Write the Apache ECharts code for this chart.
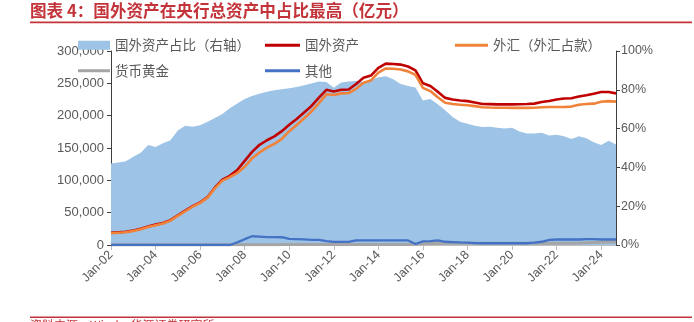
<!DOCTYPE html>
<html>
<head>
<meta charset="utf-8">
<script src="https://cdn.jsdelivr.net/npm/echarts@6/dist/echarts.min.js"></script>
<style>
  html, body { margin: 0; padding: 0; background: #fff; }
  #chart { width: 694px; height: 322px; }
</style>
</head>
<body>
<div id="chart"></div>
<script>
// Sampling dates (every four months)
const periods = [
  '2002-01','2002-05','2002-09','2003-01','2003-05','2003-09','2004-01','2004-05','2004-09',
  '2005-01','2005-05','2005-09','2006-01','2006-05','2006-09','2007-01','2007-05','2007-09',
  '2008-01','2008-05','2008-09','2009-01','2009-05','2009-09','2010-01','2010-05','2010-09',
  '2011-01','2011-05','2011-09','2012-01','2012-05','2012-09','2013-01','2013-05','2013-09',
  '2014-01','2014-05','2014-09','2015-01','2015-05','2015-09','2016-01','2016-05','2016-09',
  '2017-01','2017-05','2017-09','2018-01','2018-05','2018-09','2019-01','2019-05','2019-09',
  '2020-01','2020-05','2020-09','2021-01','2021-05','2021-09','2022-01','2022-05','2022-09',
  '2023-01','2023-05','2023-09','2024-01','2024-05','2024-09'
];

// 国外资产占比（%，右轴）
const foreignShare = [
  42, 42.5, 43.2, 45.5, 47.5, 51.5, 50.5, 52.5, 54,
  59, 61.5, 61, 61.7, 63.5, 65.5, 67.5, 70.5, 73,
  75.3, 76.8, 78, 79, 79.8, 80.3, 80.8, 81.5, 82.3,
  83.2, 84.3, 84, 81, 83.8, 84.3, 84.6, 84, 85,
  86.5, 87, 85.5, 83, 82, 81.2, 74.5, 75.3, 72.5,
  69.5, 66, 63.5, 62.5, 61.5, 60.8, 61, 60.5, 60,
  60.5, 58.5, 57.5, 57.5, 57.8, 56.5, 56.8, 56, 54.6,
  56, 55, 53, 51.5, 53.8, 51.8
];

// 国外资产（亿元）
const foreignAssets = [
  19000, 19800, 20500, 22500, 25000, 28500, 31500, 34000, 38500,
  46000, 53000, 60000, 66000, 74000, 89000, 101000, 107000, 116000,
  130000, 144000, 155000, 162000, 168000, 176000, 186000, 195000, 205000,
  215000, 228000, 240000, 237500, 240000, 240500, 249000, 258500, 262000,
  274000, 280500, 280000, 279000, 276000, 270000, 250000, 246000, 237000,
  227500, 225000, 223500, 222500, 220500, 218000, 217800, 217500, 217500,
  217500, 217600, 218000, 218600, 221000, 222700, 225000, 226500, 227000,
  229500, 231500, 234000, 236500, 236500, 234500
];

// 外汇（外汇占款，亿元）
const fxReserves = [
  18200, 19000, 19700, 21700, 24200, 27700, 30700, 33200, 37700,
  45200, 52200, 59200, 65200, 73200, 88000, 99500, 105000, 111500,
  121000, 134000, 143000, 150500, 156500, 164000, 176000, 185500, 196000,
  206500, 219500, 233000, 232000, 234500, 235000, 241500, 251000, 254500,
  266500, 273000, 272500, 271500, 268500, 263000, 243000, 238000, 228500,
  220000, 218000, 217000, 216000, 214700, 213000, 212600, 212300, 212200,
  212100, 212000, 212100, 212300, 213000, 213400, 213500, 213500, 214000,
  217000, 218000, 218600, 221500, 222500, 221700
];

// 货币黄金（亿元）
const monetaryGold = [
  337, 337, 337, 337, 337, 337, 337, 337, 337,
  337, 337, 337, 337, 337, 337, 337, 337, 337,
  337, 337, 337, 337, 337, 670, 670, 670, 670,
  670, 670, 670, 670, 670, 670, 670, 670, 670,
  670, 670, 670, 670, 670, 1500, 2100, 2330, 2330,
  2541, 2541, 2541, 2856, 2856, 2856, 2856, 2856, 2856,
  2856, 2856, 2856, 2856, 2856, 2856, 2856, 2856, 2856,
  3000, 3400, 3900, 4300, 4600, 4800
];

// 其他国外资产（亿元）
const otherAssets = [
  0, 0, 0, 0, 0, 0, 0, 0, 0,
  0, 0, 0, 0, 0, 0, 0, 0, 4000,
  9000, 13500, 13000, 12300, 12300, 12000, 9500, 9100, 8600,
  8000, 8000, 6000, 4800, 4800, 4800, 7000, 7000, 7000,
  7000, 7000, 7000, 7000, 7000, 1600, 5500, 6000, 7000,
  5000, 4500, 4000, 3700, 3000, 2700, 2700, 2700, 2700,
  2700, 2700, 2700, 3700, 5000, 8000, 8500, 8500, 8500,
  8500, 9000, 9000, 8500, 8500, 8500
];

// Horizontal axis labels, one every 24 months
const xTickLabels = ['Jan-02','Jan-04','Jan-06','Jan-08','Jan-10','Jan-12',
                     'Jan-14','Jan-16','Jan-18','Jan-20','Jan-22','Jan-24'];

const FONT = "'Liberation Sans', 'Noto Sans CJK SC', sans-serif";
const CJK = "'Noto Sans CJK SC', sans-serif";
const RED_TEXT = '#C3343A';
const TEXT_GREY = '#595959';
const AXIS_DARK = '#404040';

// months elapsed since Jan 2002
function monthIndex(p) {
  const parts = p.split('-').map(Number);
  return (parts[0] - 2002) * 12 + (parts[1] - 1);
}
const toPairs = vals => periods.map((p, i) => [monthIndex(p), vals[i]]);

const chart = echarts.init(document.getElementById('chart'), null, { renderer: 'canvas' });

const legendBase = {
  orient: 'horizontal',
  padding: 0,
  itemGap: 0,
  selectedMode: false,
  itemStyle: { borderWidth: 0 },
  textStyle: { fontSize: 13.5, color: TEXT_GREY, fontFamily: CJK },
  z: 10
};

const lineSeries = (name, data, color, width, z) => ({
  name, type: 'line', data: toPairs(data),
  symbol: 'none', showSymbol: false,
  lineStyle: { width, color },
  itemStyle: { color },
  z, silent: true
});

chart.setOption({
  animation: false,
  backgroundColor: '#fff',
  textStyle: { fontFamily: FONT },
  grid: { left: 111, right: 78, top: 51, bottom: 77, containLabel: false },
  legend: [
    Object.assign({}, legendBase, { left: 78, top: 38.5, itemWidth: 32, itemHeight: 9,
      data: [{ name: '国外资产占比（右轴）', icon: 'rect' }] }),
    Object.assign({}, legendBase, { left: 78, top: 64, itemWidth: 32, itemHeight: 3,
      data: [{ name: '货币黄金', icon: 'rect' }] }),
    Object.assign({}, legendBase, { left: 265, top: 38.5, itemWidth: 35, itemHeight: 3,
      data: [{ name: '国外资产', icon: 'rect' }] }),
    Object.assign({}, legendBase, { left: 265, top: 64, itemWidth: 35, itemHeight: 3,
      data: [{ name: '其他', icon: 'rect' }] }),
    Object.assign({}, legendBase, { left: 455, top: 38.5, itemWidth: 33, itemHeight: 3,
      data: [{ name: '外汇（外汇占款）', icon: 'rect' }] })
  ],
  xAxis: {
    type: 'value', min: 0, max: 272, interval: 24,
    axisLine: { show: true, lineStyle: { color: '#BFBFBF', width: 1 } },
    axisTick: { show: true, length: 5, lineStyle: { color: '#BFBFBF' } },
    splitLine: { show: false },
    axisLabel: {
      rotate: 45, margin: 8, fontSize: 12.5, color: TEXT_GREY, fontFamily: FONT,
      showMaxLabel: false,
      formatter: v => (v % 24 === 0 && xTickLabels[v / 24]) ? xTickLabels[v / 24] : ''
    }
  },
  yAxis: [
    {
      type: 'value', position: 'left', min: 0, max: 300000, interval: 50000,
      axisLine: { show: true, lineStyle: { color: AXIS_DARK } },
      axisTick: { show: true, length: 4, lineStyle: { color: AXIS_DARK } },
      splitLine: { show: false },
      axisLabel: { margin: 7, fontSize: 13, color: TEXT_GREY, fontFamily: FONT,
        formatter: v => v.toLocaleString('en-US') }
    },
    {
      type: 'value', position: 'right', min: 0, max: 100, interval: 20,
      axisLine: { show: true, lineStyle: { color: AXIS_DARK } },
      axisTick: { show: true, length: 4, lineStyle: { color: AXIS_DARK } },
      splitLine: { show: false },
      axisLabel: { margin: 5, fontSize: 12.5, color: TEXT_GREY, fontFamily: FONT,
        formatter: '{value}%' }
    }
  ],
  series: [
    {
      name: '国外资产占比（右轴）', type: 'line', yAxisIndex: 1,
      data: toPairs(foreignShare),
      symbol: 'none', showSymbol: false,
      lineStyle: { width: 0 },
      itemStyle: { color: '#9DC3E6' },
      areaStyle: { color: '#9DC3E6', opacity: 1 },
      z: 1, silent: true
    },
    lineSeries('货币黄金', monetaryGold, '#A5A5A5', 3, 2),
    lineSeries('国外资产', foreignAssets, '#C00000', 2.6, 3),
    lineSeries('外汇（外汇占款）', fxReserves, '#F0823A', 2.6, 4),
    lineSeries('其他', otherAssets, '#4472C4', 2.3, 5)
  ],
  graphic: [
    { type: 'text', left: 30, top: 2.5, z: 20,
      style: { text: '图表 4：国外资产在央行总资产中占比最高（亿元）', fill: RED_TEXT,
               font: "bold 16.6px 'Noto Sans CJK SC', sans-serif" } },
    { type: 'rect', z: 20, shape: { x: 30, y: 21.5, width: 662, height: 1.8 },
      style: { fill: RED_TEXT } },
    { type: 'rect', z: 20, shape: { x: 30, y: 316.5, width: 662, height: 1.5 },
      style: { fill: RED_TEXT } },
    { type: 'text', left: 30, top: 319.5, z: 20,
      style: { text: '资料来源：Wind，华源证券研究所', fill: RED_TEXT,
               font: "12px 'Noto Sans CJK SC', sans-serif" } }
  ]
});
</script>
</body>
</html>
